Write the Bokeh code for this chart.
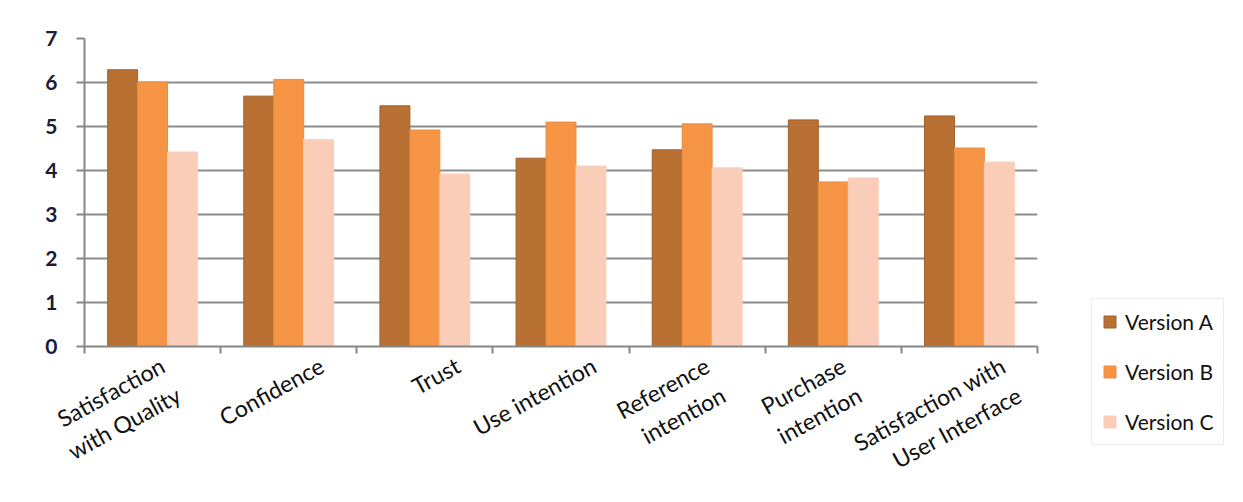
from bokeh.plotting import figure
from bokeh.models import ColumnDataSource, Range1d, FixedTicker, Legend, LegendItem
from bokeh.transform import dodge
from bokeh.embed import file_html
from bokeh.resources import INLINE

categories = ["Satisfaction\nwith Quality", "Confidence", "Trust", "Use intention",
              "Reference\nintention", "Purchase\nintention", "Satisfaction with\nUser Interface"]
version_a = [6.29, 5.69, 5.47, 4.28, 4.47, 5.15, 5.24]
version_b = [6.01, 6.07, 4.92, 5.10, 5.06, 3.74, 4.51]
version_c = [4.42, 4.70, 3.92, 4.10, 4.06, 3.83, 4.19]
series_names = ["Version A", "Version B", "Version C"]
y_ticks = [0, 1, 2, 3, 4, 5, 6, 7]

colors = ["#B87033", "#F69546", "#FACDB8"]
edges = ["#A3602A", "#EE8C3E", "#FACDB8"]

n = len(categories)
centers = [i + 0.5 for i in range(n)]
src = ColumnDataSource(dict(x=centers, a=version_a, b=version_b, c=version_c))

FONT = "Lato"
FRAME_W = 953
p = figure(frame_width=FRAME_W, frame_height=308, output_backend="svg", toolbar_location=None,
           x_range=Range1d(0, n), y_range=Range1d(0, 7),
           min_border_left=84, min_border_right=206, min_border_top=38, min_border_bottom=156)
p.outline_line_color = None
p.background_fill_color = "white"
p.border_fill_color = "white"

bw = 0.22
renderers = []
for key, off, col, edge in zip(["a", "b", "c"], [-bw, 0, bw], colors, edges):
    r = p.vbar(x=dodge("x", off, range=p.x_range), top=key, width=bw, bottom=0, source=src,
               fill_color=col, line_color=edge, line_width=1)
    renderers.append(r)

# label placement: single-line labels end right of the category centre,
# two-line labels are centred (the longer first line pushes them right)
px = n / FRAME_W
tick_pos, label_map = [], {}
for c, lab in zip(centers, categories):
    lines = lab.split("\n")
    if len(lines) == 1:
        shift = 33 * px
        shown = lab
    else:
        shift = (10 + 8 * max(0, len(lines[0]) - len(lines[1]))) * px
        shown = "\n" + lab
    tick_pos.append(c + shift)
    label_map[c + shift] = shown

p.xaxis.ticker = FixedTicker(ticks=tick_pos, minor_ticks=list(range(n + 1)))
p.xaxis.major_label_overrides = label_map
p.xaxis.major_label_orientation = 0.5
p.xaxis.major_tick_out = 0
p.xaxis.major_tick_in = 0
p.xaxis.minor_tick_out = 7
p.xaxis.minor_tick_in = 0
p.xaxis.minor_tick_line_color = "#868686"
p.xaxis.minor_tick_line_width = 2
p.xaxis.axis_line_color = "#868686"
p.xaxis.axis_line_width = 2
p.xaxis.major_label_text_font = FONT
p.xaxis.major_label_text_font_size = "23px"
p.xaxis.major_label_text_color = "#111111"
p.xaxis.major_label_standoff = 10
p.xgrid.grid_line_color = None

p.yaxis.ticker = FixedTicker(ticks=y_ticks)
p.yaxis.major_tick_out = 8
p.yaxis.major_tick_in = 0
p.yaxis.minor_tick_line_color = None
p.yaxis.major_tick_line_color = "#868686"
p.yaxis.major_tick_line_width = 2
p.yaxis.axis_line_color = "#868686"
p.yaxis.axis_line_width = 2
p.yaxis.major_label_text_font = FONT
p.yaxis.major_label_text_font_size = "21px"
p.yaxis.major_label_text_color = "#1B1B33"
p.yaxis.major_label_text_font_style = "bold"
p.yaxis.major_label_standoff = 19
p.ygrid.grid_line_color = "#8C8C8C"
p.ygrid.grid_line_width = 2
p.ygrid.grid_line_alpha = 1

legend = Legend(items=[LegendItem(label=nm, renderers=[r]) for nm, r in zip(series_names, renderers)],
                location=(54, -99), orientation="vertical",
                glyph_width=15, glyph_height=15, label_height=24, spacing=25, padding=10,
                label_standoff=8, margin=0,
                label_text_font=FONT, label_text_font_size="21px", label_text_color="#111111",
                border_line_color="#D9D9D9", border_line_width=1, background_fill_alpha=0)
p.add_layout(legend, "right")

open("out.html", "w").write(file_html(p, INLINE))
